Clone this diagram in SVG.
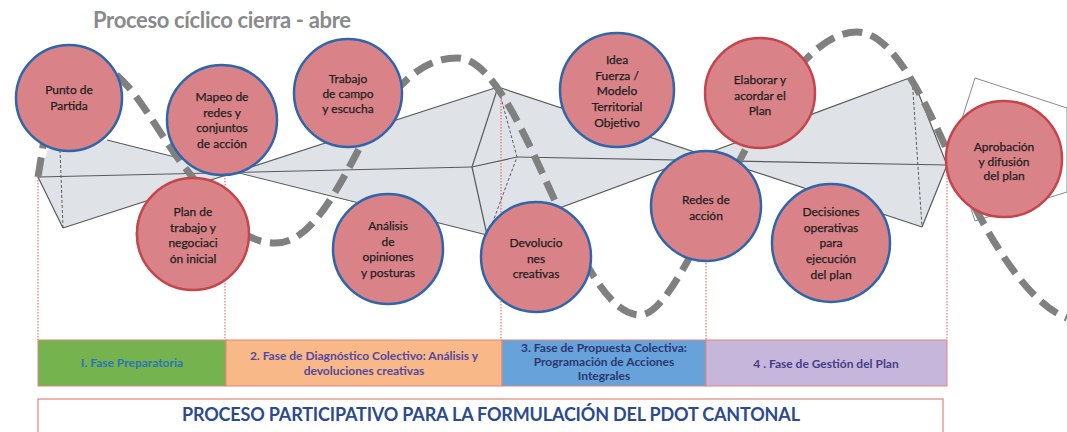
<svg xmlns="http://www.w3.org/2000/svg" width="1067" height="432" viewBox="0 0 1067 432">
<style>
.bg{fill:#ffffff}
.shape{fill:#dfe3e8;stroke:none}
.ln{fill:none;stroke:#5a5a5a;stroke-width:1.2}
.dl{fill:none;stroke:#5a5a5a;stroke-width:1;stroke-dasharray:3 2}
.rl{fill:none;stroke:#e05a5a;stroke-width:1;stroke-dasharray:1.5 1.5}
.wave{fill:none;stroke:#808080;stroke-width:7;stroke-dasharray:20 9}
.nb{fill:#d98388;stroke:#2f65ab;stroke-width:2.5}
.nr{fill:#d98388;stroke:#c4454c;stroke-width:2.5}
.g{fill:none;stroke:#5fae3c;stroke-width:2.5}
.t{font-family:Lato,"Liberation Sans",sans-serif;font-size:12px;fill:#1e1e1e;stroke:#1e1e1e;stroke-width:0.25;text-anchor:middle}
.ph{font-family:Lato,"Liberation Sans",sans-serif;font-size:12px;font-weight:bold;text-anchor:middle}
.box{stroke:#e0857a;stroke-width:1}
</style>
<rect class="bg" x="0" y="0" width="1067" height="432"/>
<text x="93" y="28" font-family="Lato,'Liberation Sans',sans-serif" font-size="22" font-weight="bold" fill="#8a8a8a" textLength="258">Proceso cíclico cierra - abre</text>

<g id="bands">
  <polygon class="shape" points="38,177 48,150 107,140 235,172 63,228"/>
  <polygon class="shape" points="235,172 498,87 472,167 487,235"/>
  <polygon class="shape" points="498,87 703,155 487,235 472,167"/>
  <polygon class="shape" points="703,155 912,77 947,165 922,227"/>
</g>

<g id="connectors">
  <line class="ln" x1="38" y1="177" x2="472" y2="167"/>
  <line class="ln" x1="38" y1="177" x2="63" y2="228"/>
  <line class="ln" x1="63" y1="228" x2="498" y2="87"/>
  <line class="ln" x1="107" y1="140" x2="487" y2="235"/>
  <line class="ln" x1="498" y1="87" x2="472" y2="167"/>
  <line class="ln" x1="472" y1="167" x2="487" y2="235"/>
  <line class="ln" x1="472" y1="167" x2="517" y2="157"/>
  <line class="ln" x1="517" y1="157" x2="947" y2="165"/>
  <line class="ln" x1="498" y1="87" x2="922" y2="227"/>
  <line class="ln" x1="487" y1="235" x2="912" y2="77"/>
  <line class="ln" x1="912" y1="77" x2="947" y2="165"/>
  <line class="ln" x1="947" y1="165" x2="922" y2="227"/>
  <polyline class="dl" points="60,150 63,228"/>
  <polyline class="dl" points="498,87 517,157 488,235"/>
  <polyline class="dl" points="912,77 922,227"/>
  <polygon fill="none" stroke="#8a8a8a" stroke-width="1" points="975,78 1067,108 1067,192 975,221 952,150"/>
  <line class="rl" x1="38" y1="177" x2="38" y2="340"/>
  <line class="rl" x1="225" y1="172" x2="225" y2="340"/>
  <line class="rl" x1="501" y1="88" x2="501" y2="340"/>
  <line class="rl" x1="706" y1="260" x2="706" y2="340"/>
  <line class="rl" x1="947" y1="166" x2="947" y2="340"/>
  <path class="wave" d="M38,177 C45,135 55,58 76,58 C98,58 115,70 135,95 C155,122 170,150 190,174 C220,212 240,243 275,243 C300,243 320,220 345,175 C370,130 400,58 457,58 C523,58 574,315 640,315 C690,315 765,32 857,32 C890,32 920,90 947,150 C977,216 1020,300 1067,318"/>
</g>

<g id="n1"><circle class="nb" cx="69" cy="98" r="53"/><text class="t" x="69" y="94">Punto de<tspan x="69" dy="16">Partida</tspan></text></g>
<g id="n2"><circle class="nb" cx="222" cy="120" r="55"/><text class="t" x="222" y="101">Mapeo de<tspan x="222" dy="15.5">redes y</tspan><tspan x="222" dy="15.5">conjuntos</tspan><tspan x="222" dy="15.5">de acción</tspan></text></g>
<g id="n3"><path class="g" d="M140.4,214.8 A56,56 0 0 0 140.4,253.2"/><circle class="nr" cx="193" cy="234" r="56"/><text class="t" x="193" y="216">Plan de<tspan x="193" dy="15.5">trabajo y</tspan><tspan x="193" dy="15.5">negociaci</tspan><tspan x="193" dy="15.5">ón inicial</tspan></text></g>
<g id="n4"><path class="g" d="M296,78 A54,54 0 0 1 306,60"/><circle class="nb" cx="348" cy="93" r="54"/><text class="t" x="348" y="83">Trabajo<tspan x="348" dy="15">de campo</tspan><tspan x="348" dy="15">y escucha</tspan></text></g>
<g id="n5"><circle class="nb" cx="388" cy="249" r="55"/><text class="t" x="388" y="230">Análisis<tspan x="388" dy="15.5">de</tspan><tspan x="388" dy="15.5">opiniones</tspan><tspan x="388" dy="15.5">y posturas</tspan></text></g>
<g id="n6"><circle class="nb" cx="617" cy="90" r="57"/><text class="t" x="617" y="64">Idea<tspan x="617" dy="15.7">Fuerza /</tspan><tspan x="617" dy="15.7">Modelo</tspan><tspan x="617" dy="15.7">Territorial</tspan><tspan x="617" dy="15.7">Objetivo</tspan></text></g>
<g id="n7"><path class="g" d="M483,268 A55,55 0 0 0 492,290"/><circle class="nb" cx="536" cy="257" r="55"/><text class="t" x="536" y="247">Devolucio<tspan x="536" dy="15.5">nes</tspan><tspan x="536" dy="15.5">creativas</tspan></text></g>
<g id="n8"><circle class="nb" cx="706" cy="206" r="55"/><text class="t" x="706" y="204">Redes de<tspan x="706" dy="15.5">acción</tspan></text></g>
<g id="n9"><circle class="nr" cx="760" cy="93" r="55"/><text class="t" x="760" y="84">Elaborar y<tspan x="760" dy="15.5">acordar el</tspan><tspan x="760" dy="15.5">Plan</tspan></text></g>
<g id="n10"><circle class="nb" cx="831" cy="243" r="59"/><text class="t" x="831" y="216">Decisiones<tspan x="831" dy="15.7">operativas</tspan><tspan x="831" dy="15.7">para</tspan><tspan x="831" dy="15.7">ejecución</tspan><tspan x="831" dy="15.7">del plan</tspan></text></g>
<g id="n11"><circle class="nr" cx="1004" cy="159" r="58"/><text class="t" x="1004" y="151" font-size="11">Aprobación<tspan x="1004" dy="14.5">y difusión</tspan><tspan x="1004" dy="14.5">del plan</tspan></text></g>

<g id="phase1"><rect class="box" x="38" y="340" width="188" height="46" fill="#75b34e"/><text class="ph" x="132" y="367" fill="#2e74b8">I. Fase Preparatoria</text></g>
<g id="phase2"><rect class="box" x="226" y="340" width="276" height="46" fill="#f9b887"/><text class="ph" x="364" y="360" fill="#5248a0">2. Fase de Diagnóstico Colectivo: Análisis y<tspan x="364" dy="15">devoluciones creativas</tspan></text></g>
<g id="phase3"><rect class="box" x="502" y="340" width="204" height="46" fill="#68a2da"/><text class="ph" x="604" y="352" fill="#2b3870">3. Fase de Propuesta Colectiva:<tspan x="604" dy="14">Programación de Acciones</tspan><tspan x="604" dy="14">Integrales</tspan></text></g>
<g id="phase4"><rect class="box" x="706" y="340" width="241" height="46" fill="#c7b6dc"/><text class="ph" x="826" y="368" fill="#463c86">4 . Fase de Gestión del Plan</text></g>

<g id="footer"><rect x="38" y="399" width="905" height="40" fill="#ffffff" stroke="#e0857a" stroke-width="1.2"/><text x="491" y="421" font-family="Lato,'Liberation Sans',sans-serif" font-size="18" font-weight="bold" fill="#2c4b8e" text-anchor="middle" textLength="618">PROCESO PARTICIPATIVO PARA LA FORMULACIÓN DEL PDOT CANTONAL</text></g>
</svg>
